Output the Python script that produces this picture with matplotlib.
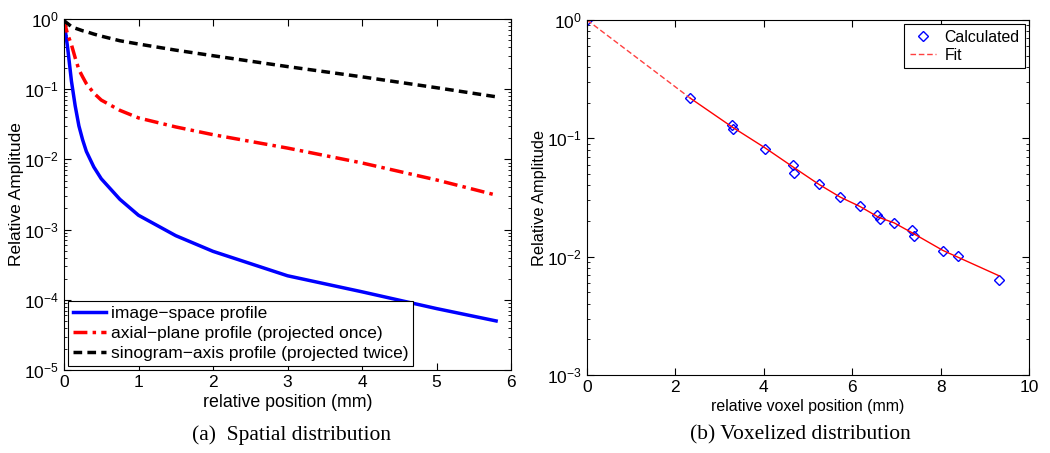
import matplotlib
matplotlib.use("Agg")
import matplotlib.pyplot as plt

plt.rcParams['font.family'] = ['Liberation Sans', 'DejaVu Sans']
plt.rcParams['mathtext.fontset'] = 'custom'
plt.rcParams['mathtext.rm'] = 'Liberation Sans'

# ---- Panel (a) data ----
pos_a = [0, 0.025, 0.05, 0.1, 0.15, 0.2, 0.25, 0.3, 0.4, 0.5, 0.75, 1.0, 1.5, 2.0,
         3.0, 4.0, 5.0, 5.8]
image_space = [0.9, 0.6, 0.38, 0.13, 0.058, 0.03, 0.019, 0.013, 0.0078, 0.0053, 0.0027,
               0.0016, 0.00082, 0.00049, 0.00022, 0.00013, 0.000075, 0.00005]
axial_plane = [1.0, 0.75, 0.6, 0.43, 0.28, 0.19, 0.15, 0.12, 0.088, 0.07, 0.05, 0.039,
               0.029, 0.0225, 0.0145, 0.0089, 0.0051, 0.0031]
sinogram_axis = [0.95, 0.9, 0.86, 0.78, 0.74, 0.71, 0.68, 0.66, 0.61, 0.57, 0.49, 0.44,
                 0.36, 0.30, 0.21, 0.15, 0.105, 0.078]

# ---- Panel (b) data ----
vox_x = [0, 2.34, 3.27, 3.30, 4.03, 4.67, 4.68, 5.24, 5.72, 6.18, 6.55, 6.63, 6.95,
         7.35, 7.40, 8.05, 8.39, 9.32]
vox_y = [1.0, 0.218, 0.129, 0.121, 0.0817, 0.0598, 0.0512, 0.0408, 0.0319, 0.0269,
         0.0225, 0.0207, 0.0194, 0.0168, 0.0149, 0.0111, 0.0101, 0.00634]
fit_x = [0, 2.34, 3.28, 4.03, 4.67, 5.24, 5.72, 6.18, 6.6, 6.95, 7.37, 8.05, 8.39, 9.32]
fit_y = [1.0, 0.218, 0.125, 0.083, 0.057, 0.041, 0.032, 0.0265, 0.0215, 0.0193, 0.0158,
         0.0113, 0.0099, 0.0069]

fig = plt.figure(figsize=(10.5, 4.53), dpi=100)
W, H = 1050, 453

def ax_rect(l, t, r, b):
    return [l / W, 1 - b / H, (r - l) / W, (b - t) / H]

def style(ax):
    ax.tick_params(which='both', direction='in', top=True, right=True, labelsize=12.5)
    ax.tick_params(which='major', length=5)
    ax.tick_params(which='minor', length=2.5)
    for s in ax.spines.values():
        s.set_linewidth(0.8)

# Panel (a)
ax1 = fig.add_axes(ax_rect(64, 19, 511, 370))
ax1.semilogy(pos_a, image_space, color='#0000ff', lw=2.5, label='image\u2212space profile')
ax1.semilogy(pos_a, axial_plane, color='#ff0000', lw=2.5, ls=(0, (4, 1.5, 1, 1.5)),
             label='axial\u2212plane profile (projected once)')
ax1.semilogy(pos_a, sinogram_axis, color='black', lw=2.5, ls=(0, (2.5, 1.5)),
             label='sinogram\u2212axis profile (projected twice)')
ax1.set_xlim(0, 6)
ax1.set_ylim(1e-5, 1)
ax1.set_xticks(range(0, 7))
ax1.set_xlabel('relative position (mm)', fontsize=12.8, labelpad=3)
ax1.set_ylabel('Relative Amplitude', fontsize=12.5, labelpad=0)
style(ax1)
leg1 = ax1.legend(loc='lower left', fontsize=12.5, handlelength=1.9, handletextpad=0.3,
                  borderaxespad=0.25, borderpad=0.25, labelspacing=0.3, fancybox=False,
                  framealpha=1, edgecolor='black')
leg1.get_frame().set_linewidth(0.8)

# Panel (b)
ax2 = fig.add_axes(ax_rect(587, 20, 1029, 375))
ax2.semilogy(vox_x, vox_y, ls='none', marker='D', ms=5, mfc='none', mec='#0000ff',
             mew=1.0, label='Calculated')
ax2.semilogy(fit_x[:2], fit_y[:2], color='#ff4040', lw=1.0, ls=(0, (4, 2)), label='Fit')
ax2.semilogy(fit_x[1:], fit_y[1:], color='#ff0000', lw=1.0)
ax2.set_xlim(0, 10)
ax2.set_ylim(1e-3, 1)
ax2.set_xticks(range(0, 11, 2))
ax2.set_xlabel('relative voxel position (mm)', fontsize=11.4, labelpad=3)
ax2.set_ylabel('Relative Amplitude', fontsize=11.8, labelpad=0)
style(ax2)
leg2 = ax2.legend(loc='upper right', fontsize=11.4, handlelength=1.7, handletextpad=0.5,
                  borderaxespad=0.25, borderpad=0.35, labelspacing=0.2, fancybox=False,
                  framealpha=1, edgecolor='black')
leg2.get_frame().set_linewidth(0.8)

# Captions
fig.text(292 / W, 1 - 435 / H, '(a)  Spatial distribution', ha='center', va='center',
         fontsize=15.5, family=['Liberation Serif', 'DejaVu Serif'])
fig.text(800 / W, 1 - 435 / H, '(b) Voxelized distribution', ha='center', va='center',
         fontsize=15.5, family=['Liberation Serif', 'DejaVu Serif'])

fig.savefig('out.png', dpi=100)
